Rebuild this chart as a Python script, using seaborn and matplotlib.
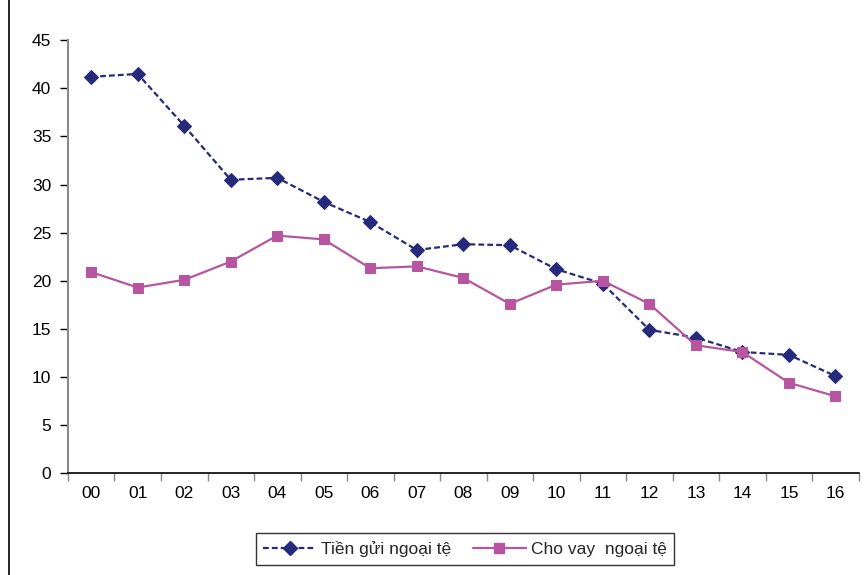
import matplotlib
matplotlib.use("Agg")
import matplotlib.pyplot as plt
import seaborn as sns
import pandas as pd
from matplotlib.lines import Line2D

years = ["00", "01", "02", "03", "04", "05", "06", "07", "08",
         "09", "10", "11", "12", "13", "14", "15", "16"]
deposits = [41.2, 41.5, 36.1, 30.5, 30.7, 28.2, 26.1, 23.2, 23.8,
            23.7, 21.2, 19.7, 14.9, 14.1, 12.6, 12.3, 10.1]
loans = [20.9, 19.3, 20.1, 22.0, 24.7, 24.3, 21.3, 21.5, 20.3,
         17.6, 19.6, 20.0, 17.6, 13.3, 12.6, 9.4, 8.0]
series_names = ["Tiền gửi ngoại tệ", "Cho vay  ngoại tệ"]
y_ticks = [0, 5, 10, 15, 20, 25, 30, 35, 40, 45]

navy = "#262A7A"
pink = "#B855A0"

sns.set_theme(style="white")
plt.rcParams["font.family"] = ["Liberation Sans", "DejaVu Sans"]

df = pd.DataFrame({"year": years, "dep": deposits, "loan": loans})
df["pos"] = range(len(years))

fig = plt.figure(figsize=(8.66, 5.75), dpi=100)
ax = fig.add_axes([0.0785, 0.177, 0.913, 0.753])

sns.lineplot(data=df, x="pos", y="dep", ax=ax, color=navy, linewidth=1.6,
             marker="D", markersize=7, markeredgecolor=navy,
             linestyle=(0, (2.6, 1.4)))
sns.lineplot(data=df, x="pos", y="loan", ax=ax, color=pink, linewidth=1.6,
             marker="s", markersize=7.5, markeredgecolor=pink)

ax.set_xlim(-0.5, len(years) - 0.5)
ax.set_ylim(0, 45)
ax.set_xlabel("")
ax.set_ylabel("")

ax.set_yticks(y_ticks)
ax.set_yticklabels([str(v) for v in y_ticks], fontsize=12.5, color="black")
ax.set_xticks(df["pos"])
ax.set_xticklabels(years, fontsize=12.5, color="black")
ax.set_xticks([i - 0.5 for i in range(len(years) + 1)], minor=True)

ax.tick_params(axis="y", which="major", direction="out", length=6,
               width=1, color="black", left=True, pad=6)
ax.tick_params(axis="x", which="major", length=0, pad=9)
ax.tick_params(axis="x", which="minor", direction="out", length=6,
               width=1, color="#888888", bottom=True)

for side in ("top", "right"):
    ax.spines[side].set_visible(False)
ax.spines["left"].set_color("#888888")
ax.spines["left"].set_linewidth(1.5)
ax.spines["bottom"].set_color("black")
ax.spines["bottom"].set_linewidth(1.2)
ax.grid(False)

# vertical rule at the left edge of the frame
fig.add_artist(Line2D([0.0105, 0.0105], [0, 1], color="black",
                      linewidth=1.2, transform=fig.transFigure))

handles = [
    Line2D([], [], color=navy, linewidth=1.6, linestyle=(0, (2.6, 1.4)),
           marker="D", markersize=7, markeredgecolor=navy),
    Line2D([], [], color=pink, linewidth=1.6, marker="s", markersize=7.5,
           markeredgecolor=pink),
]
leg = fig.legend(handles, series_names, loc="center",
                 bbox_to_anchor=(0.537, 0.045), ncol=2, fontsize=12.5,
                 frameon=True, fancybox=False, handlelength=3.0,
                 columnspacing=1.3, handletextpad=0.3, borderpad=0.45)
leg.get_frame().set_edgecolor("black")
leg.get_frame().set_linewidth(1.0)

fig.savefig("out.png", dpi=100)
